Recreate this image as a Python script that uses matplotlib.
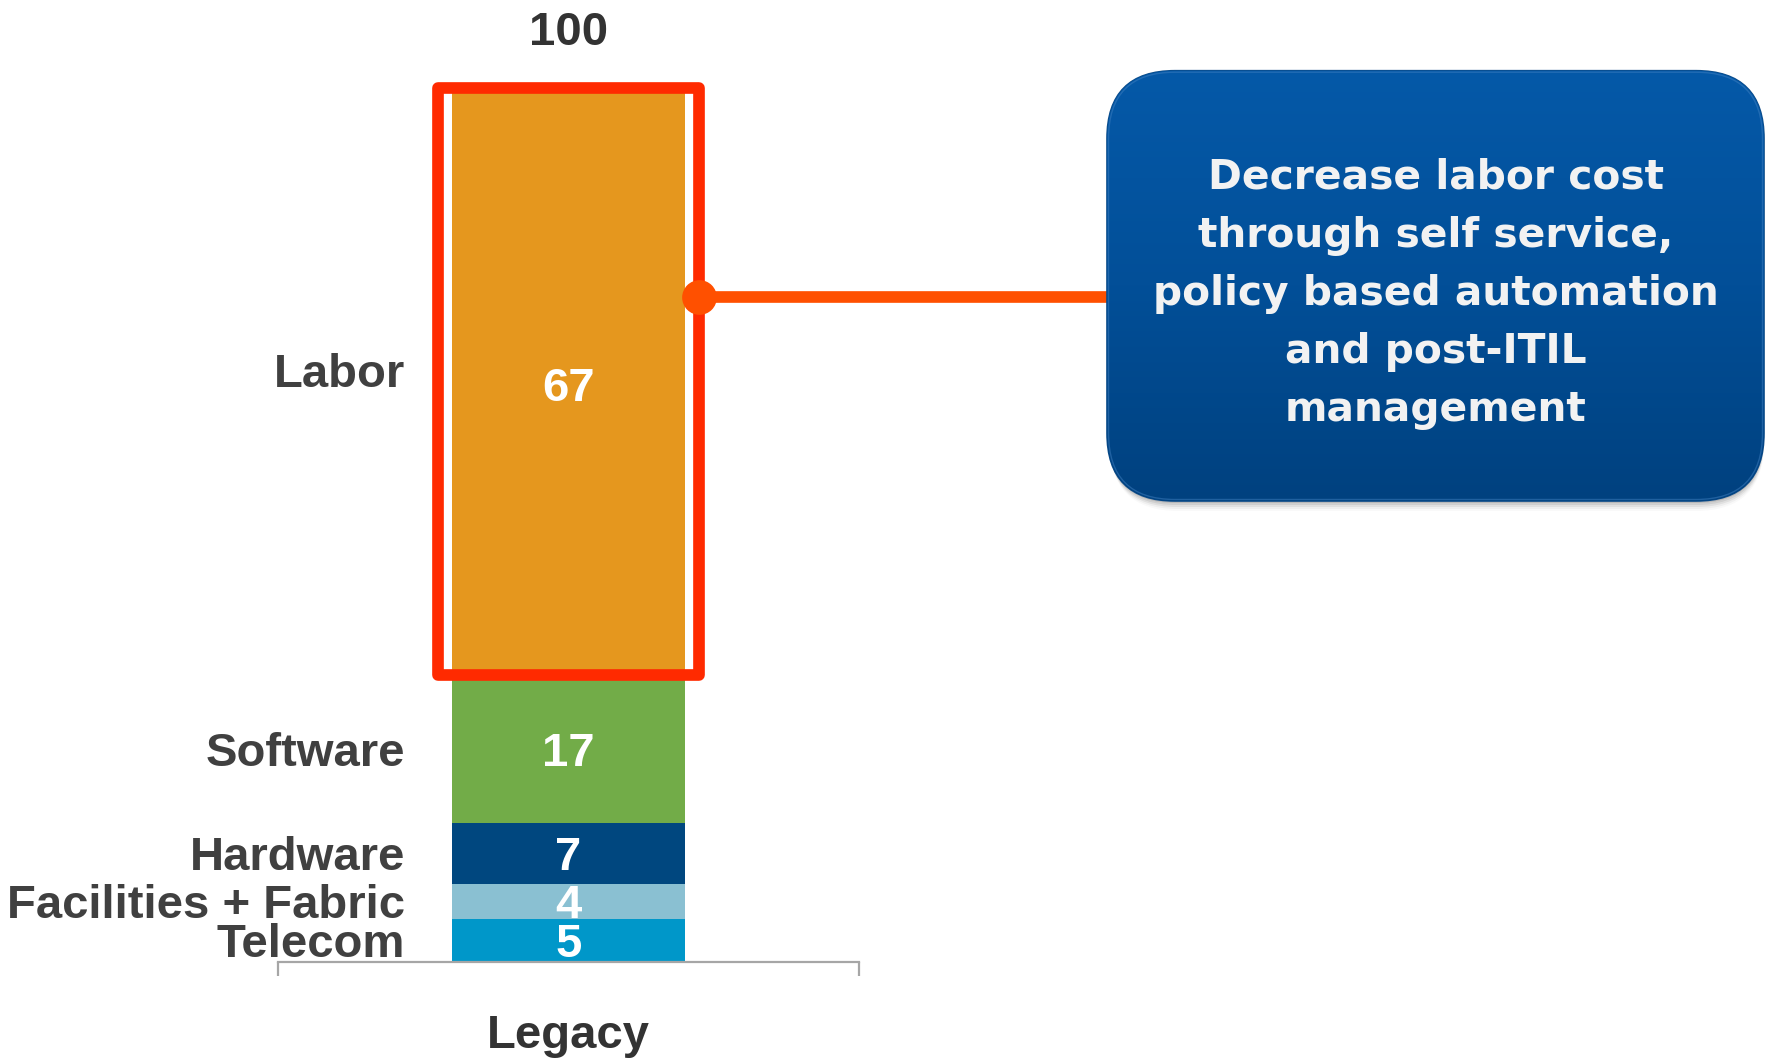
import numpy as np
import matplotlib
matplotlib.use('Agg')
import matplotlib.pyplot as plt
from matplotlib.patches import Rectangle, FancyBboxPatch
from matplotlib.colors import LinearSegmentedColormap

# ---------------- data ----------------
categories = ['Telecom', 'Facilities + Fabric', 'Hardware', 'Software', 'Labor']
values = [5, 4, 7, 17, 67]
group_label = 'Legacy'
total_label = '100'
highlight = 'Labor'
callout_lines = ['Decrease labor cost',
                 'through self service,',
                 'policy based automation',
                 'and post-ITIL',
                 'management']

# ---------------- style ----------------
colors = ['#0097C9', '#8AC0D2', '#00477F', '#72AC48', '#E5971E']
W, H, DPI = 1767, 1058, 100
plt.rcParams['font.family'] = ['Liberation Sans', 'DejaVu Sans']
FS = 34
label_col = '#404040'
red = '#FF2A00'
conn = '#FF5000'
connector_y = 76.5

fig = plt.figure(figsize=(W / DPI, H / DPI), dpi=DPI)
fig.patch.set_facecolor('white')

# overlay axes in pixel coordinates (for callout box)
ov = fig.add_axes([0, 0, 1, 1])
ov.set_xlim(0, W)
ov.set_ylim(H, 0)
ov.axis('off')
ov.set_zorder(0)

ax_bottom_px, ax_top_px = 962.0, 93.3
ax = fig.add_axes([278 / W, (H - ax_bottom_px) / H, 581 / W, (ax_bottom_px - ax_top_px) / H])
ax.set_zorder(1)
ax.patch.set_visible(False)

bottoms = np.concatenate([[0], np.cumsum(values)[:-1]])
total = float(np.sum(values))
bw = 0.4
ax.bar([0] * len(values), values, bottom=bottoms, width=bw, color=colors,
       linewidth=0, zorder=2)
ax.set_xlim(-0.5, 0.5)
ax.set_ylim(0, total)
for s in ['left', 'right', 'top']:
    ax.spines[s].set_visible(False)
ax.spines['bottom'].set_color('#a6a6a6')
ax.spines['bottom'].set_linewidth(1.6)
ax.set_xticks([-0.5, 0.5])
ax.set_xticklabels([])
ax.tick_params(axis='x', direction='out', length=10, width=1.6, color='#a6a6a6')
ax.set_yticks([])

# segment labels
for cat, v, b in zip(categories, values, bottoms):
    mid = b + v / 2
    ax.annotate(str(v), xy=(0, mid), xytext=(0, -12.2), textcoords='offset points',
                ha='center', va='baseline', color='white', fontsize=FS,
                fontweight='bold', zorder=5)
    dy = 10 if cat == highlight else 0
    ax.annotate(cat, xy=(-bw / 2, mid), xytext=(-34, dy - 12.2), textcoords='offset points',
                ha='right', va='baseline', fontsize=FS, color=label_col,
                fontweight='bold', annotation_clip=False)

ax.annotate(total_label, xy=(0, total), xytext=(0, 34.8), textcoords='offset points',
            ha='center', va='baseline', fontsize=FS, color='#333333',
            fontweight='bold', annotation_clip=False)
ax.annotate(group_label, xy=(0, 0), xytext=(0, -62), textcoords='offset points',
            ha='center', va='baseline', fontsize=FS, color='#333333',
            fontweight='bold', annotation_clip=False)

# highlight rectangle around Labor
px_x = 581.0
px_y = (ax_bottom_px - ax_top_px) / total
i_h = categories.index(highlight)
pad_x = 14 / px_x
pad_top = 5.8 / px_y
rect = Rectangle((-bw / 2 - pad_x, bottoms[i_h]), bw + 2 * pad_x,
                 values[i_h] + pad_top, fill=False, edgecolor=red, lw=8.4,
                 joinstyle='round', zorder=4, clip_on=False)
ax.add_patch(rect)
dot_x = bw / 2 + pad_x
ax.plot([dot_x], [connector_y], 'o', ms=25, color=conn, mec='none', zorder=6, clip_on=False)

# connector line (pixel coords in overlay)
dpx, dpy = ax.transData.transform((dot_x, connector_y))
dpy = H - dpy
bx0, bx1, by0, by1 = 1107.0, 1764.0, 70.7, 501.0
ov.plot([dpx, bx0 + 5], [dpy, dpy], color=conn, lw=8.4, solid_capstyle='butt', zorder=1)

# callout box
r = 68
for off, a in [(2, 0.10), (4, 0.08), (6, 0.06), (8, 0.04), (10, 0.025)]:
    sh = FancyBboxPatch((bx0 + off * 0.3, by0 + off), bx1 - bx0 - off * 0.3, by1 - by0,
                        boxstyle=f'round,pad=0,rounding_size={r}',
                        facecolor='black', edgecolor='none', alpha=a, zorder=2)
    ov.add_patch(sh)
box = FancyBboxPatch((bx0, by0), bx1 - bx0, by1 - by0,
                     boxstyle=f'round,pad=0,rounding_size={r}',
                     facecolor='#004a90', edgecolor='#0a4a88', lw=1.2, zorder=3)
ov.add_patch(box)
cmap = LinearSegmentedColormap.from_list('g', ['#0559A8', '#024f98', '#00417F'])
grad = np.linspace(0, 1, 256).reshape(-1, 1)
im = ov.imshow(grad, cmap=cmap, extent=(bx0, bx1, by1, by0), origin='upper',
               aspect='auto', zorder=4, interpolation='bilinear')
im.set_clip_path(box)
rim = FancyBboxPatch((bx0 + 1.5, by0 + 1.5), bx1 - bx0 - 3, by1 - by0 - 3,
                     boxstyle=f'round,pad=0,rounding_size={r - 1.5}',
                     facecolor='none', edgecolor='#3f7fc0', lw=1.0, alpha=0.5, zorder=5)
ov.add_patch(rim)

cx = (bx0 + bx1) / 2
for k, line in enumerate(callout_lines):
    ov.text(cx, 188.5 + 58 * k, line, ha='center', va='baseline', fontsize=29.3,
            color='#f2f2f2', fontweight='bold', family='DejaVu Sans', zorder=6)

fig.savefig('out.png', dpi=DPI, facecolor='white')
